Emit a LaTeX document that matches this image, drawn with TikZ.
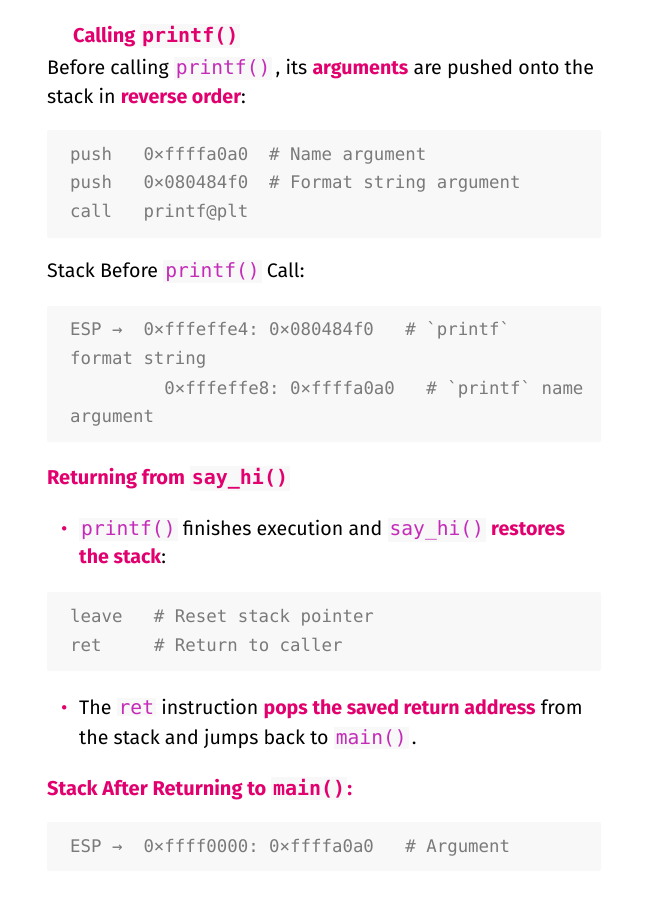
\documentclass[tikz,border=0pt]{standalone}
\usepackage{fontspec}
\setmainfont{Fira Sans}
\setmonofont{DejaVu Sans Mono}
\definecolor{hot}{HTML}{E2006E}
\definecolor{icode}{HTML}{C42BB8}
\definecolor{codebg}{HTML}{F8F8F8}
\definecolor{codefg}{HTML}{7A7A7A}
\newcommand\ic[1]{{\setlength\fboxsep{2pt}\colorbox{codebg}{\ttfamily\color{icode}#1}}}
\newcommand\hc[1]{{\setlength\fboxsep{2pt}\colorbox{codebg}{\ttfamily\bfseries\color{hot}#1}}}
\newcommand\hot[1]{{\color{hot}\bfseries #1}}
\tikzset{
  txt/.style={anchor=base west,inner sep=0pt,font=\fontsize{19.6}{22}\selectfont},
  head/.style={txt,font=\fontsize{20}{22}\selectfont\bfseries,text=hot},
  code/.style={anchor=base west,inner sep=0pt,font=\fontsize{17.4}{20}\ttfamily,text=codefg},
  codebox/.style={fill=codebg,draw=none,rounded corners=2pt}
}
\begin{document}
\begin{tikzpicture}[x=1pt,y=-1pt]
\useasboundingbox[fill=white] (0,0) rectangle (646,922);

\node[head] (h1) at (73,42) {Calling \hc{printf()}};
\node[txt] (p1) at (47,74) {Before calling \ic{printf()}\,, its \hot{arguments} are pushed onto the};
\node[txt] (p2) at (47,103) {stack in \hot{reverse order}:};

\fill[codebox] (47,130) rectangle (601,238);
\node[code] (c1) at (70,160) {push\ \ \ 0×ffffa0a0\ \ \# Name argument};
\node[code] (c2) at (70,188) {push\ \ \ 0×080484f0\ \ \# Format string argument};
\node[code] (c3) at (70,217) {call\ \ \ printf@plt};

\node[txt] (p3) at (47,277) {Stack Before \ic{printf()} Call:};

\fill[codebox] (47,306) rectangle (601,442);
\node[code] (c4) at (70,335) {ESP →\ \ 0×fffeffe4: 0×080484f0\ \ \ \# `printf`};
\node[code] (c5) at (70,364) {format string};
\node[code] (c6) at (70,394) {\ \ \ \ \ \ \ \ \ 0×fffeffe8: 0×ffffa0a0\ \ \ \# `printf` name};
\node[code] (c7) at (70,422) {argument};

\node[head] (h2) at (47,484) {Returning from \hc{say\_hi()}};

\node[txt,text=hot] (b1) at (61,535) {\textbullet};
\node[txt] (p4) at (79,535) {\ic{printf()} finishes execution and \ic{say\_hi()} \hot{restores}};
\node[txt] (p5) at (79,563) {\hot{the stack}:};

\fill[codebox] (47,592) rectangle (601,671);
\node[code] (c8) at (70,622) {leave\ \ \ \# Reset stack pointer};
\node[code] (c9) at (70,651) {ret\ \ \ \ \ \# Return to caller};

\node[txt,text=hot] (b2) at (61,714) {\textbullet};
\node[txt] (p6) at (79,714) {The \ic{ret} instruction \hot{pops the saved return address} from};
\node[txt] (p7) at (79,744) {the stack and jumps back to \ic{main()}\,.};

\node[head] (h3) at (47,795) {Stack After Returning to \hc{main()}:};

\fill[codebox] (47,822) rectangle (601,871);
\node[code] (c10) at (70,852) {ESP →\ \ 0×ffff0000: 0×ffffa0a0\ \ \ \# Argument};
\end{tikzpicture}
\end{document}
